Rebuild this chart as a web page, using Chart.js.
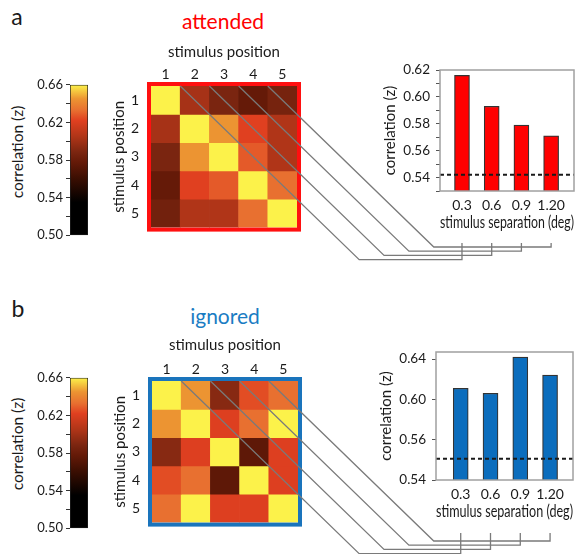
<!DOCTYPE html>
<html>
<head>
<meta charset="utf-8">
<script src="https://cdn.jsdelivr.net/npm/chart.js@4.4.1/dist/chart.umd.min.js"></script>
<style>
  body { margin: 0; background: #fff; width: 587px; height: 554px; position: relative; overflow: hidden; font-family: Lato, sans-serif; color: #1a1a1a; }
  canvas { position: absolute; }
  .t { position: absolute; white-space: nowrap; line-height: 1; transform: translate(-50%, -50%); }
  .rot { transform: translate(-50%, -50%) rotate(-90deg); }
</style>
</head>
<body>
<div class="t" style="left:17px;top:16px;font-size:23px">a</div>
<div class="t" style="left:223px;top:20px;font-size:21px;color:#ff0000">attended</div>
<div class="t rot" style="left:18px;top:152px;font-size:15.5px">correlation (z)</div>

<div class="t" style="left:18px;top:308px;font-size:23px">b</div>
<div class="t" style="left:225px;top:315px;font-size:21px;color:#1a7cc3">ignored</div>
<div class="t rot" style="left:18px;top:444px;font-size:15.5px">correlation (z)</div>

<script>
// stimulus positions (rows / columns of the correlation matrices)
const positions = ['1', '2', '3', '4', '5']
// stimulus separations (bar categories)
const separations = ['0.3', '0.6', '0.9', '1.20']

// correlation matrices
const attendedMatrix = [
  [0.660, 0.602, 0.588, 0.578, 0.586],
  [0.602, 0.660, 0.645, 0.622, 0.605],
  [0.588, 0.645, 0.660, 0.628, 0.605],
  [0.578, 0.622, 0.628, 0.660, 0.633],
  [0.584, 0.605, 0.605, 0.633, 0.660],
]
const ignoredMatrix = [
  [0.660, 0.645, 0.592, 0.625, 0.633],
  [0.645, 0.660, 0.621, 0.633, 0.660],
  [0.592, 0.621, 0.660, 0.575, 0.621],
  [0.625, 0.633, 0.575, 0.660, 0.621],
  [0.633, 0.660, 0.621, 0.621, 0.660],
]

// mean correlation per separation
const attendedCorr = [0.616, 0.593, 0.579, 0.571]
const ignoredCorr = [0.611, 0.606, 0.642, 0.624]
const attendedBaseline = 0.542
const ignoredBaseline = 0.541

// axis ticks
const attendedTicks = [0.53, 0.54, 0.55, 0.56, 0.57, 0.58, 0.59, 0.60, 0.61, 0.62]
const attendedTickLabels = ['', '0.54', '', '0.56', '', '0.58', '', '0.60', '', '0.62']
const ignoredTicks = [0.52, 0.56, 0.60, 0.64]
const ignoredTickLabels = ['0.54', '0.56', '0.60', '0.64']
const colorbarTicks = [0.50, 0.52, 0.54, 0.56, 0.58, 0.60, 0.62, 0.64, 0.66]
const colorbarTickLabels = ['0.50', '', '0.54', '', '0.58', '', '0.62', '', '0.66']

// colormap
const cmapValues = [0.50, 0.535, 0.56, 0.578, 0.588, 0.605, 0.622, 0.633, 0.645, 0.66]
const cmapColors = ['#000000', '#000000', '#3a0e02', '#651a08', '#7a2510', '#b03518', '#e04020', '#e87030', '#ec9432', '#fcf24a']

Chart.defaults.font.family = 'Lato'
Chart.defaults.color = '#1a1a1a'

const hexRgb = h => [1, 3, 5].map(i => parseInt(h.slice(i, i + 2), 16))

function cmap(v){
  if (v <= cmapValues[0]) return cmapColors[0]
  for (let i = 1; i < cmapValues.length; i++){
    if (v <= cmapValues[i]){
      const t = (v - cmapValues[i - 1]) / (cmapValues[i] - cmapValues[i - 1])
      const a = hexRgb(cmapColors[i - 1]), b = hexRgb(cmapColors[i])
      const c = a.map((x, k) => Math.round(x + (b[k] - x) * t))
      return `rgb(${c[0]},${c[1]},${c[2]})`
    }
  }
  return cmapColors[cmapColors.length - 1]
}

function makeCanvas(left, top, w, h){
  const c = document.createElement('canvas')
  c.width = w
  c.height = h
  c.style.left = left + 'px'
  c.style.top = top + 'px'
  c.style.width = w + 'px'
  c.style.height = h + 'px'
  document.body.appendChild(c)
  return c
}

const frame = (color, width, inset) => ({
  id: 'frame',
  afterDatasetsDraw(chart){
    const {ctx, chartArea: a} = chart
    ctx.save()
    ctx.strokeStyle = color
    ctx.lineWidth = width
    ctx.strokeRect(a.left - inset, a.top - inset, a.right - a.left + 2 * inset, a.bottom - a.top + 2 * inset)
    ctx.restore()
  }
})

const base = {
  responsive: false,
  animation: false,
  devicePixelRatio: 1,
  plugins: { legend: { display: false }, tooltip: { enabled: false } },
}

function colorbar(canvas){
  const lo = colorbarTicks[0], hi = colorbarTicks[colorbarTicks.length - 1]
  return new Chart(canvas, {
    type: 'bar',
    data: {
      labels: ['z'],
      datasets: [{
        data: [[lo, hi]],
        backgroundColor: ctx => {
          const chart = ctx.chart
          if (!chart.chartArea) return cmapColors[0]
          const y = chart.scales.y
          const g = chart.ctx.createLinearGradient(0, y.getPixelForValue(lo), 0, y.getPixelForValue(hi))
          cmapValues.forEach((v, i) => g.addColorStop((v - lo) / (hi - lo), cmapColors[i]))
          return g
        },
        borderColor: '#222',
        borderWidth: 1,
        borderSkipped: false,
        barPercentage: 1,
        categoryPercentage: 1,
      }],
    },
    options: {
      ...base,
      layout: { padding: { top: 10, bottom: 10, left: 0, right: 12 } },
      scales: {
        x: { display: false },
        y: {
          min: lo, max: hi, beginAtZero: false,
          afterBuildTicks: s => { s.ticks = colorbarTicks.map(v => ({ value: v })) },
          ticks: { autoSkip: false, padding: 3, font: { size: 13 }, callback: (v, i) => colorbarTickLabels[i] },
          grid: { drawOnChartArea: false, tickLength: 4, color: '#333' },
          border: { display: false },
          afterFit: s => { s.width = 70 },
        },
      },
    },
  })
}

function heatmap(canvas, matrix, frameColor, titlePad){
  return new Chart(canvas, {
    type: 'bar',
    data: {
      labels: positions,
      datasets: matrix.map(row => ({
        data: row.map(() => 1),
        backgroundColor: row.map(cmap),
        borderWidth: 0,
        barPercentage: 1,
        categoryPercentage: 1,
      })),
    },
    options: {
      ...base,
      layout: { padding: { top: 0, left: 0, right: 13, bottom: 8 } },
      scales: {
        x: {
          position: 'top', stacked: true,
          grid: { display: false }, border: { display: false },
          ticks: { padding: -5, font: { size: 14 } },
          title: { display: true, text: 'stimulus position', font: { size: 15 }, padding: { top: titlePad, bottom: 0 } },
          afterFit: s => { s.height = 56 },
        },
        y: {
          stacked: true, reverse: true, min: 0, max: positions.length,
          grid: { display: false }, border: { display: false },
          afterBuildTicks: s => { s.ticks = positions.map((_, i) => ({ value: i + 0.5 })) },
          ticks: { autoSkip: false, padding: 4, font: { size: 14 }, callback: (v, i) => positions[i] },
          title: { display: true, text: 'stimulus position', font: { size: 15 }, padding: { top: 10, bottom: 0 } },
          afterFit: s => { s.width = 51 },
        },
      },
    },
    plugins: [frame(frameColor, 4, 2)],
  })
}

function barChart(canvas, p){
  return new Chart(canvas, {
    type: 'bar',
    data: {
      datasets: [{
        type: 'line',
        data: [{ x: p.xMin, y: p.baseline }, { x: p.xMax, y: p.baseline }],
        borderColor: '#1a1a1a',
        borderWidth: 2,
        borderDash: [4, 3],
        pointRadius: 0,
        order: 0,
      }, {
        type: 'bar',
        data: p.values.map((v, i) => ({ x: i, y: v })),
        backgroundColor: p.color,
        borderColor: '#333',
        borderWidth: 1.2,
        barThickness: 15,
        order: 1,
      }],
    },
    options: {
      ...base,
      layout: { padding: { top: 15, left: 0, right: p.padRight, bottom: 0 } },
      scales: {
        x: {
          type: 'linear', min: p.xMin, max: p.xMax, offset: false,
          grid: { display: false }, border: { display: false },
          afterBuildTicks: s => { s.ticks = separations.map((_, i) => ({ value: i })) },
          ticks: { autoSkip: false, padding: -2, font: { size: 14 }, callback: (v, i) => separations[i] },
          title: { display: true, text: 'stimulus separation (deg)', font: { size: 16.5 }, padding: { top: 0, bottom: 7 } },
          afterFit: s => { s.height = 49 },
        },
        y: {
          min: p.yMin, max: p.yMax, beginAtZero: false,
          afterBuildTicks: s => { s.ticks = p.ticks.map(v => ({ value: v })) },
          ticks: { autoSkip: false, padding: 6, font: { size: 13.5 }, callback: (v, i) => p.tickLabels[i] },
          grid: { drawOnChartArea: false, tickLength: 4, color: '#555' },
          border: { display: false },
          title: { display: true, text: 'correlation (z)', font: { size: 15 }, padding: { top: 11, bottom: 0 } },
          afterFit: s => { s.width = 70 },
        },
      },
    },
    plugins: [frame('#a0a0a0', 1.5, 0)],
  })
}

// panel a
const cbA = makeCanvas(0, 74, 100, 172)
colorbar(cbA)
const hmA = makeCanvas(100, 30, 210, 210)
const heatA = heatmap(hmA, attendedMatrix, '#ff1010', 13)
const brA = makeCanvas(370, 55, 217, 185)
const barA = barChart(brA, {
  values: attendedCorr, baseline: attendedBaseline, color: '#ff0000',
  ticks: attendedTicks, tickLabels: attendedTickLabels,
  yMin: 0.53, yMax: 0.62, xMin: -0.74, xMax: 3.77, padRight: 13,
})

// panel b
const cbB = makeCanvas(0, 367, 100, 172)
colorbar(cbB)
const hmB = makeCanvas(101, 325, 210, 210)
const heatB = heatmap(hmB, ignoredMatrix, '#1a74bc', 11)
const brB = makeCanvas(366, 337, 221, 192)
const barB = barChart(brB, {
  values: ignoredCorr, baseline: ignoredBaseline, color: '#0b6dbd',
  ticks: ignoredTicks, tickLabels: ignoredTickLabels,
  yMin: 0.52, yMax: 0.647, xMin: -0.83, xMax: 3.77, padRight: 14,
})

// connectors: each off-diagonal of the matrix leads to its separation bar
const overlay = makeCanvas(0, 0, 587, 554)
const octx = overlay.getContext('2d')
octx.strokeStyle = '#7a7a7a'
octx.lineWidth = 1.3

function connectors(heat, hCanvas, bar, bCanvas, stem, gap){
  const hx = heat.scales.x, hy = heat.scales.y
  const hl = parseFloat(hCanvas.style.left), ht = parseFloat(hCanvas.style.top)
  const bl = parseFloat(bCanvas.style.left), bt = parseFloat(bCanvas.style.top)
  const cellW = hx.getPixelForValue(1) - hx.getPixelForValue(0)
  const cellH = hy.getPixelForValue(1) - hy.getPixelForValue(0)
  const y0 = hy.getPixelForValue(0) + ht
  const yTop = bar.chartArea.bottom + bt + stem
  separations.forEach((_, i) => {
    const k = i + 1
    const x0 = hx.getPixelForValue(k) - cellW / 2 + hl
    const level = yTop + gap + (separations.length - k) * 4.2
    const xd = x0 + (level - y0) * cellW / cellH
    const xb = bar.scales.x.getPixelForValue(i) + bl
    octx.beginPath()
    octx.moveTo(x0, y0)
    octx.lineTo(xd, level)
    octx.lineTo(xb, level)
    octx.lineTo(xb, yTop)
    octx.stroke()
  })
}

connectors(heatA, hmA, barA, brA, 52, 4)
connectors(heatB, hmB, barB, brB, 53, 8)
</script>
</body>
</html>
